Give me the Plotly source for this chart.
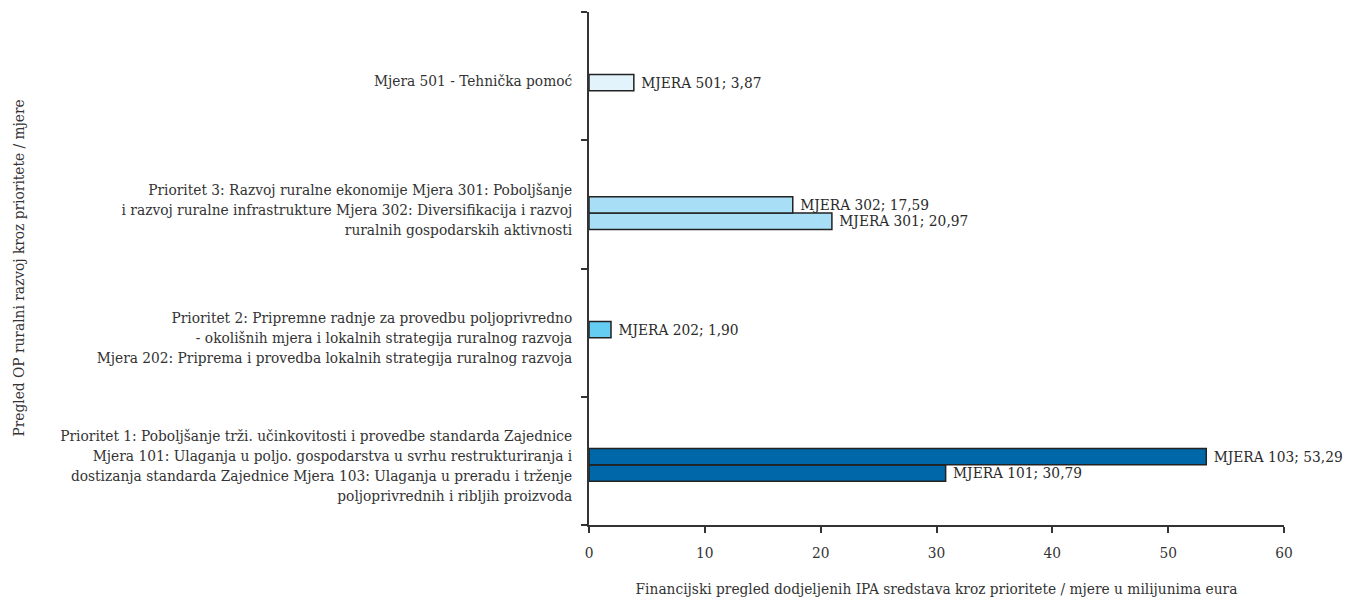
import plotly.graph_objects as go

categories = [
    "Prioritet 1: Poboljšanje trži. učinkovitosti i provedbe standarda Zajednice<br>Mjera 101: Ulaganja u poljo. gospodarstva u svrhu restrukturiranja i<br>dostizanja standarda Zajednice Mjera 103: Ulaganja u preradu i trženje<br>poljoprivrednih i ribljih proizvoda",
    "Prioritet 2: Pripremne radnje za provedbu poljoprivredno<br>- okolišnih mjera i lokalnih strategija ruralnog razvoja<br>Mjera 202: Priprema i provedba lokalnih strategija ruralnog razvoja",
    "Prioritet 3: Razvoj ruralne ekonomije Mjera 301: Poboljšanje<br>i razvoj ruralne infrastrukture Mjera 302: Diversifikacija i razvoj<br>ruralnih gospodarskih aktivnosti",
    "Mjera 501 - Tehnička pomoć",
]

measures = ["MJERA 101", "MJERA 103", "MJERA 202", "MJERA 301", "MJERA 302", "MJERA 501"]
measure_category = [0, 0, 1, 2, 2, 3]
values = [30.79, 53.29, 1.90, 20.97, 17.59, 3.87]

x_title = "Financijski pregled dodjeljenih IPA sredstava kroz prioritete / mjere u milijunima eura"
y_title = "Pregled OP ruralni razvoj kroz prioritete / mjere"

# styling (positions within category, colours)
offsets = [-0.159, -0.031, -0.040, -0.195, -0.067, -0.114]
bar_width = 0.127
colors = ["#0067a8", "#0067a8", "#66cdf2", "#a9def7", "#a9def7", "#e2f3fc"]

FONT = "DejaVu Serif Condensed, Liberation Serif, serif"
FS = 15.3
TXT = "#333333"

fig = go.Figure()
for m, ci, v, off, col in zip(measures, measure_category, values, offsets, colors):
    fig.add_trace(go.Bar(
        y=[categories[ci]], x=[v], orientation="h",
        offset=off, width=bar_width,
        marker=dict(color=col, line=dict(color="#222222", width=1.5)),
        text=[" " + f"{m}; {v:.2f}".replace(".", ",")],
        textposition="outside",
        constraintext="none",
        textfont=dict(family=FONT, size=FS, color="#2a2a2a"),
        cliponaxis=False,
        showlegend=False,
        hoverinfo="x+y",
    ))

L, R, T, B = 581, 67, 4, 76
W, H = 1343, 593

fig.update_layout(
    width=W, height=H,
    margin=dict(l=L, r=R, t=T, b=B),
    barmode="overlay",
    plot_bgcolor="white", paper_bgcolor="white",
    font=dict(family=FONT, size=FS, color=TXT),
    xaxis=dict(
        range=[0, 60], dtick=10, showgrid=False, zeroline=False,
        showline=True, linecolor="#333333", linewidth=1.5,
        ticks="outside", ticklen=6, tickcolor="#333333", tickwidth=1.5,
        ticklabelstandoff=7,
        tickfont=dict(family=FONT, size=FS, color=TXT),
        title=dict(text=x_title, font=dict(family=FONT, size=FS, color=TXT), standoff=22),
    ),
    yaxis=dict(
        type="category", categoryorder="array", categoryarray=categories,
        range=[-0.5, 3.5], showgrid=False, zeroline=False,
        showline=True, linecolor="#333333", linewidth=1.5,
        ticks="outside", ticklen=6, tickcolor="#333333", tickwidth=1.5,
        tickson="boundaries", ticklabelstandoff=12, ticklabelshift=5,
        tickfont=dict(family=FONT, size=FS, color=TXT),
    ),
    annotations=[dict(
        text=y_title, textangle=-90, showarrow=False,
        xref="paper", yref="paper",
        x=(10 - L) / (W - L - R), y=0.5,
        xanchor="center", yanchor="middle",
        font=dict(family=FONT, size=FS, color=TXT),
    )],
)

fig.write_html("out.html")
